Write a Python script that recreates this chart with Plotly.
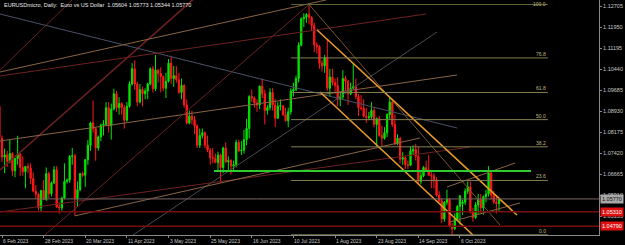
import plotly.graph_objects as go
import pandas as pd

# ---------------- data ----------------
# broker calendar: weekdays plus two short Sunday sessions in March
wk = pd.bdate_range("2023-02-03", "2023-10-27")
sundays = pd.to_datetime(["2023-03-12", "2023-03-19"])
dates = wk.union(sundays)

opens = [1.0910,1.0795,1.0727,1.0735,1.0712,1.0740,1.0678,1.0722,1.0738,1.0690,1.0675,1.0694,1.0688,1.0650,1.0605,1.0594,1.0545,1.0607,
         1.0575,1.0668,1.0596,1.0634,1.0682,1.0548,1.0545,1.0580,1.0640,1.0645,1.0730,1.0732,1.0577,1.0610,1.0668,1.0662,1.0718,1.0770,1.0850,1.0830,1.0760,1.0800,1.0842,1.0845,1.0905,
         1.0840,1.0900,1.0955,1.0905,1.0920,1.0905,1.0860,1.0910,1.0990,1.1045,1.0990,1.0925,1.0970,1.0955,1.0965,1.0990,1.1045,1.0973,1.1040,1.1028,
         1.1017,1.0975,1.1000,1.1065,1.1010,1.1020,1.1005,1.0960,1.0985,1.0915,1.0850,1.0875,1.0862,1.0840,1.0770,1.0805,1.0815,1.0770,1.0752,1.0725,1.0723,1.0708,1.0735,
         1.0690,1.0760,1.0710,1.0715,1.0695,1.0700,1.0780,1.0750,1.0752,1.0790,1.0830,1.0945,1.0940,1.0922,1.0915,1.0982,1.0955,1.0895,1.0905,1.0960,1.0915,1.0867,
         1.0910,1.0912,1.0880,1.0858,1.0890,1.0965,1.0970,1.1010,1.1130,1.1225,1.1230,1.1240,1.1230,1.1200,1.1130,1.1125,1.1065,1.1055,1.1085,1.0975,1.1015,
         1.0995,1.0985,1.0935,1.0945,1.1010,1.1000,1.0955,1.0975,1.0980,1.0945,1.0903,1.0903,1.0875,1.0870,1.0872,1.0895,1.0845,1.0865,1.0805,1.0795,1.0815,1.0880,1.0925,
         1.0845,1.0775,1.0795,1.0720,1.0725,1.0700,1.0698,1.0750,1.0755,1.0730,1.0640,1.0660,1.0690,1.0680,1.0662,1.0660,1.0645,1.0590,1.0570,1.0505,1.0565,
         1.0575,1.0478,1.0470,1.0505,1.0550,1.0560,1.0565,1.0605,1.0620,1.0530,1.0510,1.0555,1.0575,1.0545,1.0585,1.0595,1.0670,1.0590,1.0565,1.05604]
highs = [1.0930,1.0805,1.0758,1.0750,1.0790,1.0745,1.0725,1.0804,1.0740,1.0730,1.0695,1.0705,1.0705,1.0672,1.0627,1.0598,1.0610,1.0645,
         1.0690,1.0675,1.0640,1.0695,1.0695,1.0565,1.0585,1.0705,1.0650,1.0735,1.0760,1.0740,1.0640,1.0670,1.0675,1.0720,1.0788,1.0855,1.0930,1.0835,1.0805,1.0848,1.0860,1.0925,1.0925,
         1.0920,1.0973,1.0965,1.0943,1.0925,1.0915,1.0925,1.1000,1.1065,1.1075,1.0998,1.0990,1.0980,1.0975,1.0995,1.1050,1.1055,1.1095,1.1045,1.1050,
         1.1020,1.1030,1.1080,1.1092,1.1055,1.1055,1.1030,1.1010,1.0990,1.0935,1.0895,1.0895,1.0875,1.0845,1.0830,1.0830,1.0820,1.0805,1.0760,1.0760,1.0740,1.0747,1.0740,
         1.0765,1.0780,1.0730,1.0720,1.0715,1.0790,1.0790,1.0785,1.0825,1.0865,1.0950,1.0970,1.0945,1.0935,1.0985,1.1010,1.0970,1.0915,1.0975,1.0975,1.0935,1.0925,
         1.0935,1.0915,1.0905,1.0905,1.0975,1.0995,1.1020,1.1140,1.1230,1.1245,1.1245,1.1276,1.1235,1.1210,1.1140,1.1130,1.1075,1.1095,1.1150,1.1045,1.1045,
         1.1010,1.1015,1.0960,1.1040,1.1020,1.1005,1.0995,1.1065,1.1010,1.0955,1.0950,1.0935,1.0905,1.0890,1.0925,1.0905,1.0870,1.0875,1.0840,1.0835,1.0885,1.0945,1.0930,
         1.0880,1.0810,1.0800,1.0745,1.0730,1.0715,1.0765,1.0770,1.0775,1.0765,1.0675,1.0695,1.0715,1.0735,1.0675,1.0670,1.0655,1.0605,1.0580,1.0570,1.0610,
         1.0580,1.0490,1.0525,1.0555,1.0590,1.0575,1.0615,1.0640,1.0640,1.0545,1.0565,1.0595,1.0595,1.0590,1.0610,1.0695,1.0675,1.0605,1.0590,1.05773]
lows = [1.0795,1.0710,1.0670,1.0692,1.0705,1.0660,1.0655,1.0700,1.0660,1.0660,1.0615,1.0670,1.0630,1.0600,1.0578,1.0535,1.0533,1.0572,
        1.0570,1.0580,1.0586,1.0630,1.0545,1.0524,1.0535,1.0575,1.0632,1.0635,1.0700,1.0516,1.0550,1.0605,1.0655,1.0620,1.0700,1.0750,1.0815,1.0714,1.0750,1.0785,1.0805,1.0840,1.0815,
        1.0790,1.0895,1.0890,1.0880,1.0880,1.0830,1.0855,1.0905,1.0985,1.0970,1.0910,1.0920,1.0910,1.0935,1.0935,1.0985,1.0960,1.0965,1.0995,1.0960,
        1.0965,1.0940,1.0995,1.0990,1.0980,1.0995,1.0955,1.0935,1.0905,1.0845,1.0845,1.0845,1.0810,1.0760,1.0760,1.0795,1.0760,1.0745,1.0700,1.0705,1.0705,1.0675,1.0635,
        1.0670,1.0705,1.0675,1.0665,1.0675,1.0690,1.0745,1.0735,1.0740,1.0770,1.0795,1.0925,1.0905,1.0890,1.0900,1.0940,1.0845,1.0880,1.0895,1.0895,1.0835,1.0865,
        1.0895,1.0875,1.0855,1.0835,1.0880,1.0945,1.0965,1.0995,1.1125,1.1195,1.1210,1.1205,1.1180,1.1105,1.1100,1.1045,1.1035,1.1030,1.0965,1.0945,1.0985,
        1.0955,1.0910,1.0910,1.0935,1.0965,1.0915,1.0950,1.0970,1.0935,1.0875,1.0895,1.0870,1.0850,1.0860,1.0865,1.0835,1.0765,1.0800,1.0765,1.0790,1.0800,1.0865,1.0835,
        1.0770,1.0770,1.0705,1.0700,1.0685,1.0685,1.0695,1.0735,1.0715,1.0630,1.0630,1.0655,1.0675,1.0660,1.0615,1.0615,1.0585,1.0565,1.0490,1.0495,1.0555,
        1.0475,1.0448,1.0465,1.0500,1.0485,1.0520,1.0555,1.0595,1.0525,1.0495,1.0505,1.0520,1.0525,1.0520,1.0565,1.0585,1.0575,1.0560,1.0525,1.05344]
closes = [1.0798,1.0727,1.0735,1.0712,1.0740,1.0678,1.0722,1.0738,1.0690,1.0675,1.0694,1.0688,1.0650,1.0605,1.0594,1.0545,1.0607,1.0575,
          1.0668,1.0596,1.0634,1.0682,1.0548,1.0545,1.0580,1.0640,1.0645,1.0730,1.0732,1.0577,1.0610,1.0668,1.0662,1.0718,1.0770,1.0850,1.0830,1.0760,1.0800,1.0842,1.0845,1.0905,1.0840,
          1.0900,1.0955,1.0905,1.0920,1.0905,1.0860,1.0910,1.0990,1.1045,1.0990,1.0925,1.0970,1.0955,1.0965,1.0990,1.1045,1.0973,1.1040,1.1028,1.1017,
          1.0975,1.1000,1.1065,1.1010,1.1020,1.1005,1.0960,1.0985,1.0915,1.0850,1.0875,1.0862,1.0840,1.0770,1.0805,1.0815,1.0770,1.0752,1.0725,1.0723,1.0708,1.0735,1.0690,
          1.0760,1.0710,1.0715,1.0695,1.0700,1.0780,1.0750,1.0752,1.0790,1.0830,1.0945,1.0940,1.0922,1.0915,1.0982,1.0955,1.0895,1.0905,1.0960,1.0915,1.0867,1.0910,
          1.0912,1.0880,1.0858,1.0890,1.0965,1.0970,1.1010,1.1130,1.1225,1.1230,1.1240,1.1230,1.1200,1.1130,1.1125,1.1065,1.1055,1.1085,1.0975,1.1015,1.0995,
          1.0985,1.0935,1.0945,1.1010,1.1000,1.0955,1.0975,1.0980,1.0945,1.0905,1.0903,1.0875,1.0870,1.0872,1.0895,1.0845,1.0865,1.0805,1.0795,1.0815,1.0880,1.0925,1.0845,
          1.0775,1.0795,1.0720,1.0725,1.0700,1.0698,1.0750,1.0755,1.0730,1.0640,1.0660,1.0690,1.0680,1.0662,1.0660,1.0645,1.0590,1.0570,1.0505,1.0565,1.0575,
          1.0478,1.0470,1.0505,1.0550,1.0588,1.0565,1.0605,1.0620,1.0530,1.0510,1.0555,1.0575,1.0545,1.0585,1.0595,1.0670,1.0590,1.0565,1.0560,1.05770]

# date-axis labels (bar numbers where the terminal prints a date)
date_label_bars = [1, 17, 33, 49, 65, 81, 97, 113, 129, 145, 161, 177]
# price-axis labels
price_ticks = [1.12705, 1.11950, 1.11195, 1.10440, 1.09685, 1.08930, 1.08175, 1.07420, 1.06665, 1.05910, 1.05155]

# trend lines: (bar, price) -> (bar, price)
trend_b0 = [0.23, 0.23, 0.23, 0.23, 0.23, 0.23, 51.35, 17.5, 0.23, 29.0, 119.0, 172.0, 173.2]
trend_p0 = [1.0681, 1.1040, 1.12418, 1.10333, 1.10189, 1.07852, 1.04473, 1.04473, 1.05300, 1.0516, 1.1276, 1.06198, 1.04940]
trend_b1 = [78.6, 27.9, 175.9, 125.5, 163.95, 175.9, 168.2, 119.0, 180.9, 161.6, 192.4, 198.2, 200.1]
trend_p1 = [1.13281, 1.12921, 1.08319, 1.12921, 1.12418, 1.10225, 1.11771, 1.1276, 1.07636, 1.07960, 1.04832, 1.07061, 1.05624]
trend_kind = ["red2", "red", "slate", "tan", "red", "tan", "gray", "red", "red", "tan", "brown", "tan", "tan"]

# regression/ channel (orange)
chan_b0 = [122.1, 123.2]
chan_p0 = [1.11843, 1.09614]
chan_b1 = [198.9, 182.0]
chan_p1 = [1.05192, 1.04473]

# Fibonacci retracement
fib_low, fib_high = 1.0448, 1.1276
fib_levels = [0.0, 23.6, 38.2, 50.0, 61.8, 76.8, 100.0]
fib_b0, fib_b1 = 112.1, 210.8

# horizontal support (green)
green_level, green_b0, green_b1 = 1.06774, 82.5, 204.3
# full-width lines
bid_price = 1.05770
alert_levels = [1.05310, 1.04790]

title_text = "EURUSDmicro, Daily:  Euro vs US Dollar  1.05604 1.05773 1.05344 1.05770"

# ---------------- figure ----------------
bars = list(range(len(dates)))
FONT = "Liberation Sans"
fig = go.Figure()
fig.add_trace(go.Candlestick(
    x=bars, open=opens, high=highs, low=lows, close=closes,
    increasing=dict(line=dict(color="#00e600", width=1), fillcolor="#00e600"),
    decreasing=dict(line=dict(color="#ff1a1a", width=1), fillcolor="#ff1a1a"),
    whiskerwidth=0, hoverinfo="skip"))

styles = {
    "red2": dict(color="#6e2020", width=1.6),
    "red": dict(color="#6e2222", width=1),
    "slate": dict(color="#4a5268", width=1),
    "tan": dict(color="#8a6444", width=1),
    "gray": dict(color="#4a4a56", width=1),
    "brown": dict(color="#7a5530", width=1),
}
shapes = []
for b0, p0, b1, p1, k in zip(trend_b0, trend_p0, trend_b1, trend_p1, trend_kind):
    shapes.append(dict(type="line", xref="x", yref="y", x0=b0, y0=p0, x1=b1, y1=p1,
                       line=styles[k], layer="above"))
for b0, p0, b1, p1 in zip(chan_b0, chan_p0, chan_b1, chan_p1):
    shapes.append(dict(type="line", xref="x", yref="y", x0=b0, y0=p0, x1=b1, y1=p1,
                       line=dict(color="#e89a28", width=1.6), layer="above"))
annotations = []
for lv in fib_levels:
    price = fib_low + (fib_high - fib_low) * lv / 100.0
    shapes.append(dict(type="line", xref="x", yref="y", x0=fib_b0, x1=fib_b1, y0=price, y1=price,
                       line=dict(color="#85804e" if lv < 100 else "#5e6838", width=1), layer="above"))
    if lv < 100:
        annotations.append(dict(x=fib_b1, y=price, xref="x", yref="y", text=f"{lv:.1f}", showarrow=False,
                                xanchor="right", yanchor="bottom", yshift=-1,
                                font=dict(size=5, color="#c0b880", family=FONT)))
    else:
        annotations.append(dict(x=fib_b1, y=1, xref="x", yref="paper", text=f"{lv:.1f}", showarrow=False,
                                xanchor="right", yanchor="top", yshift=1,
                                font=dict(size=5, color="#c0b880", family=FONT)))
shapes.append(dict(type="line", xref="x", yref="y", x0=green_b0, x1=green_b1, y0=green_level, y1=green_level,
                   line=dict(color="#2ecc2e", width=2), layer="above"))
shapes.append(dict(type="line", xref="paper", yref="y", x0=0, x1=1, y0=bid_price, y1=bid_price,
                   line=dict(color="#7a6464", width=1), layer="above"))
for lv in alert_levels:
    shapes.append(dict(type="line", xref="paper", yref="y", x0=0, x1=1, y0=lv, y1=lv,
                       line=dict(color="#780e0e", width=1.5), layer="above"))

# title
annotations.append(dict(x=0, y=1, xref="paper", yref="paper", text=title_text, showarrow=False,
                        xanchor="left", yanchor="top", xshift=2, yshift=0,
                        font=dict(size=5.5, color="#e8e8e8", family=FONT)))
# date labels (left aligned at bar)
for b in date_label_bars:
    d = dates[b]
    annotations.append(dict(x=b, y=0, xref="x", yref="paper", text=f"{d.day} {d:%b %Y}", showarrow=False,
                            xanchor="left", yanchor="top", yshift=-1, xshift=-1,
                            font=dict(size=5, color="#c8c8c8", family=FONT)))
# price tags
annotations.append(dict(x=1, y=bid_price, xref="paper", yref="y", text=f"{bid_price:.5f}", showarrow=False,
                        xanchor="left", yanchor="middle", xshift=1, bgcolor="#a8a8a8", borderpad=1,
                        font=dict(size=5.5, color="#101010", family=FONT)))
for lv in alert_levels:
    annotations.append(dict(x=1, y=lv, xref="paper", yref="y", text=f"{lv:.5f}", showarrow=False,
                            xanchor="left", yanchor="middle", xshift=1, bgcolor="#e01010", borderpad=1,
                            font=dict(size=5.5, color="#ffffff", family=FONT)))

fig.update_layout(
    width=625, height=245, margin=dict(l=0, r=26, t=0, b=10),
    paper_bgcolor="black", plot_bgcolor="black", showlegend=False,
    shapes=shapes, annotations=annotations,
    xaxis=dict(range=[0.231, 230.44], showgrid=False, zeroline=False, showline=True,
               linecolor="#8a8a8a", linewidth=1, tickvals=date_label_bars,
               ticktext=[""] * len(date_label_bars), ticks="outside", ticklen=2,
               tickcolor="#8a8a8a", rangeslider=dict(visible=False), fixedrange=True),
    yaxis=dict(side="right", range=[1.04473, 1.12921], showgrid=False, zeroline=False,
               showline=True, linecolor="#8a8a8a", linewidth=1, tickvals=price_ticks,
               ticktext=[f"{v:.5f}" for v in price_ticks], ticks="outside", ticklen=2,
               tickcolor="#8a8a8a", tickfont=dict(size=5.5, color="#c8c8c8", family=FONT),
               fixedrange=True),
)
fig.write_html("out.html")
